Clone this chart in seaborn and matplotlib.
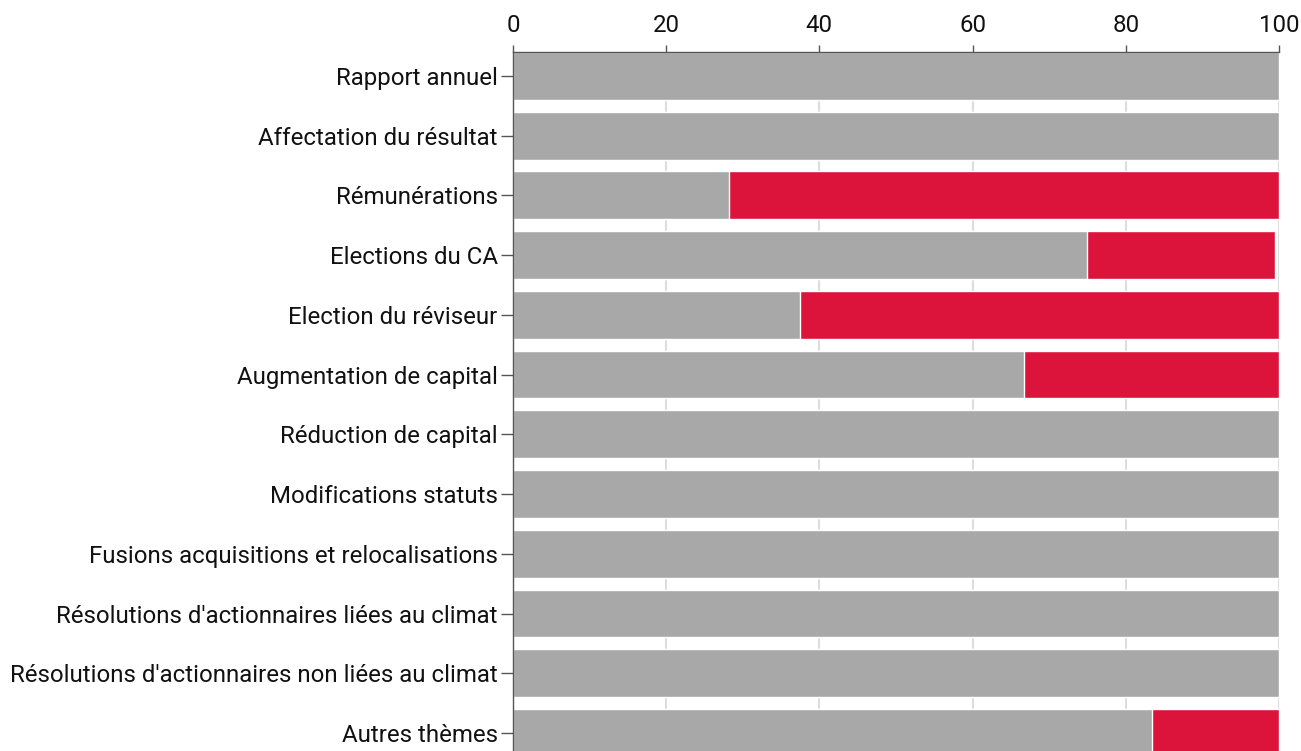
import matplotlib
matplotlib.use("Agg")
import matplotlib.pyplot as plt
import seaborn as sns
import pandas as pd

categories = [
    "Rapport annuel",
    "Affectation du résultat",
    "Rémunérations",
    "Elections du CA",
    "Election du réviseur",
    "Augmentation de capital",
    "Réduction de capital",
    "Modifications statuts",
    "Fusions acquisitions et relocalisations",
    "Résolutions d'actionnaires liées au climat",
    "Résolutions d'actionnaires non liées au climat",
    "Autres thèmes",
]
grey_values = [100, 100, 28.2, 74.9, 37.5, 66.7, 100, 100, 100, 100, 100, 83.4]
red_values = [0, 0, 71.8, 24.6, 62.5, 33.3, 0, 0, 0, 0, 0, 16.6]
x_ticks = [0, 20, 40, 60, 80, 100]

GREY = "#a8a8a8"
RED = "#dc143c"

sns.set_style("white")
plt.rcParams["font.family"] = ["Roboto", "DejaVu Sans"]

df = pd.DataFrame({"category": categories, "grey": grey_values, "red": red_values})
df["total"] = df["grey"] + df["red"]

fig = plt.figure(figsize=(13.01, 7.51), dpi=100)
ax = fig.add_axes([0.3943, 0.0, 0.5887, 0.9308])

sns.barplot(data=df, x="total", y="category", color=RED, width=0.8,
            saturation=1, ax=ax, zorder=2)
sns.barplot(data=df, x="grey", y="category", color=GREY, width=0.8,
            saturation=1, ax=ax, zorder=3)

ax.set_xlim(0, 100)
ax.set_ylim(11.3, -0.4)
ax.set_xticks(x_ticks)
ax.xaxis.tick_top()
ax.xaxis.set_label_position("top")
ax.set_xlabel("")
ax.set_ylabel("")
ax.grid(axis="x", color="#dddddd", linewidth=1.5, zorder=0)
ax.set_axisbelow(True)

for side in ["right", "bottom"]:
    ax.spines[side].set_visible(False)
for side in ["left", "top"]:
    ax.spines[side].set_color("#555555")
    ax.spines[side].set_linewidth(1)
    ax.spines[side].set_zorder(5)

ax.tick_params(axis="x", top=True, bottom=False, length=5, width=1,
               color="#555555", labelsize=17.3, labelcolor="#111111", pad=6)
ax.tick_params(axis="y", left=True, length=9, width=1,
               color="#555555", labelsize=17.3, labelcolor="#111111", pad=2)

fig.savefig("out.png", dpi=100)
